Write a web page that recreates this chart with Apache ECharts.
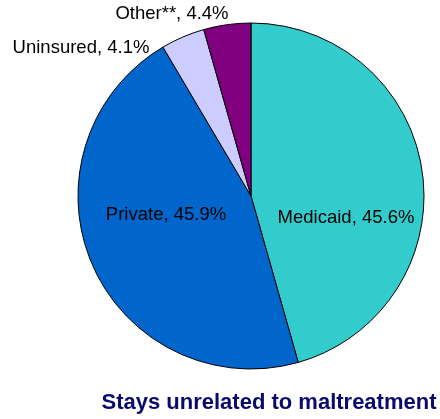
<!DOCTYPE html>
<html>
<head>
<meta charset="utf-8">
<script src="https://cdn.jsdelivr.net/npm/echarts@6/dist/echarts.min.js"></script>
<style>
html,body{margin:0;padding:0;background:#fff;}
#chart{width:440px;height:419px;}
</style>
</head>
<body>
<div id="chart"></div>
<script>
var categories = ['Medicaid', 'Private', 'Uninsured', 'Other**'];
var values = [45.6, 45.9, 4.1, 4.4];
var colors = ['#33CCCC', '#0066CC', '#CCCCFF', '#800080'];
var titleText = 'Stays unrelated to maltreatment';

// label anchor positions (center of text) per slice
var labelPos = [[346, 218], [166, 215], [81, 48], [172, 14]];

var chart = echarts.init(document.getElementById('chart'), null, {renderer: 'canvas'});
chart.setOption({
  animation: false,
  backgroundColor: '#ffffff',
  title: {
    text: titleText,
    left: 264,
    top: 387,
    textAlign: 'center',
    textStyle: {fontFamily: 'Liberation Sans, Arial, sans-serif', fontSize: 22, fontWeight: 'bold', color: '#0A0A6E'}
  },
  series: [{
    type: 'pie',
    center: [251, 196],
    radius: [0, 173],
    startAngle: 90,
    clockwise: true,
    silent: true,
    itemStyle: {borderColor: '#000000', borderWidth: 1},
    label: {
      show: true,
      position: 'inside',
      formatter: function (p) { return p.name + ', ' + p.value.toFixed(1) + '%'; },
      fontFamily: 'Liberation Sans, Arial, sans-serif',
      fontSize: 18.5,
      color: '#000000'
    },
    labelLine: {show: false},
    labelLayout: function (params) {
      var p = labelPos[params.dataIndex];
      return {x: p[0], y: p[1], align: 'center', verticalAlign: 'middle'};
    },
    data: categories.map(function (c, i) {
      return {name: c, value: values[i], itemStyle: {color: colors[i]}};
    })
  }]
});
</script>
</body>
</html>
